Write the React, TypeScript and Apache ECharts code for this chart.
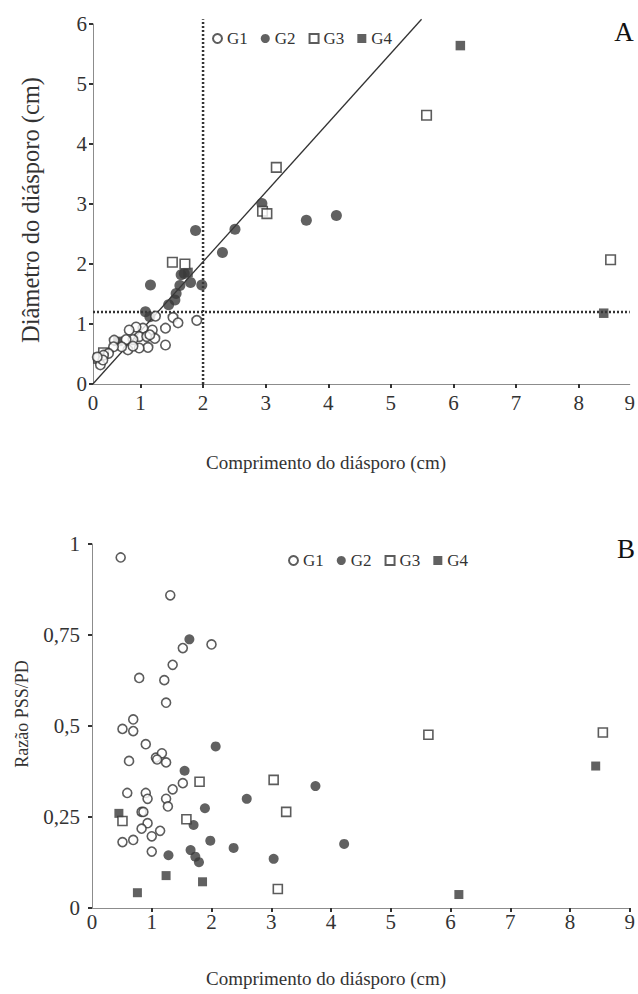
import React, { useEffect, useRef } from "react";
import * as echarts from "echarts";

// ---------- Panel A: diameter vs length ----------
const aG1: [number, number][] = [
  [1.24, 1.13], [1.52, 1.11], [1.6, 1.02], [1.9, 1.06], [1.4, 0.93], [1.4, 0.65],
  [1.19, 0.9], [1.23, 0.76], [1.12, 0.61], [1.04, 0.93], [0.93, 0.95], [0.82, 0.9],
  [0.98, 0.79], [1.1, 0.79], [0.88, 0.74], [0.77, 0.74], [1.15, 0.82], [0.98, 0.6],
  [0.8, 0.57], [0.88, 0.63], [0.7, 0.62], [0.58, 0.73], [0.57, 0.62], [0.49, 0.51],
  [0.41, 0.48], [0.36, 0.32], [0.4, 0.4], [0.31, 0.45],
];
const aG2: [number, number][] = [
  [2.94, 3.01], [3.65, 2.73], [4.13, 2.81], [2.51, 2.58], [1.88, 2.56], [2.31, 2.19],
  [1.65, 1.82], [1.7, 1.84], [1.8, 1.69], [1.63, 1.64], [1.98, 1.65], [1.16, 1.65],
  [1.57, 1.51], [1.55, 1.4], [1.45, 1.32], [1.08, 1.205], [1.15, 1.12],
];
const aG3: [number, number][] = [
  [5.57, 4.48], [3.17, 3.61], [2.95, 2.88], [3.02, 2.84], [1.51, 2.03], [1.71, 2.0],
  [8.51, 2.07], [0.41, 0.52], [0.33, 0.43],
];
const aG4: [number, number][] = [
  [6.11, 5.64], [8.4, 1.18], [1.76, 1.86], [0.64, 0.71], [0.34, 0.42],
];
// regression line and reference thresholds (panel A)
const regSlope = 1.158;
const regIntercept = -0.278;
const regYRange = [0, 6.08];
const refLength = 2;
const refDiameter = 1.2;
const aXRange = [0.242, 8.816];
const aXTicks = [1, 2, 3, 4, 5, 6, 7, 8];
const aYTicks = [0, 1, 2, 3, 4, 5, 6];

// ---------- Panel B: PSS/PD ratio vs length ----------
const bG1: [number, number][] = [
  [0.48, 0.963], [1.31, 0.859], [1.52, 0.714], [2.0, 0.724], [1.35, 0.668], [0.79, 0.632],
  [1.21, 0.626], [1.24, 0.564], [0.69, 0.518], [0.51, 0.492], [0.69, 0.486], [0.9, 0.45],
  [0.62, 0.404], [1.07, 0.413], [1.17, 0.425], [1.09, 0.408], [1.24, 0.4], [1.52, 0.343],
  [1.35, 0.326], [0.59, 0.316], [0.9, 0.316], [0.93, 0.3], [1.24, 0.3], [1.27, 0.279],
  [0.83, 0.264], [0.86, 0.264], [0.93, 0.233], [0.83, 0.218], [1.0, 0.197], [1.14, 0.212],
  [0.51, 0.181], [0.69, 0.187], [1.0, 0.155],
];
const bG2: [number, number][] = [
  [1.63, 0.738], [2.07, 0.444], [1.55, 0.377], [1.89, 0.274], [2.59, 0.3], [1.7, 0.228],
  [1.98, 0.185], [2.37, 0.165], [1.28, 0.145], [1.65, 0.159], [1.73, 0.141], [1.79, 0.126],
  [3.04, 0.135], [3.74, 0.335], [4.22, 0.176],
];
const bG3: [number, number][] = [
  [1.8, 0.347], [1.58, 0.244], [0.51, 0.239], [3.04, 0.352], [3.25, 0.264], [3.11, 0.052],
  [5.63, 0.476], [8.55, 0.482],
];
const bG4: [number, number][] = [
  [0.45, 0.26], [1.24, 0.089], [1.85, 0.072], [0.76, 0.042], [8.43, 0.39], [6.14, 0.037],
];
const bXTicks = [1, 2, 3, 4, 5, 6, 7, 8, 9];

const groupNames = ["G1", "G2", "G3", "G4"];

const FONT = "'Liberation Serif', 'Times New Roman', serif";
const INK = "#333333";
const AXIS = "#8c8c8c";

export default function App() {
  const ref = useRef<HTMLDivElement>(null);

  useEffect(() => {
    document.body.style.margin = "0";
    const chart = echarts.init(ref.current!, null, { renderer: "svg" });

    const openStyle = { color: "#ffffff", borderColor: INK, borderWidth: 1.6 };
    const fillStyle = { color: "#3a3a3a", borderColor: "#3a3a3a", borderWidth: 0 };

    const scatter = (name: string, data: [number, number][], idx: number, symbol: string, open: boolean, size: number) => ({
      type: "scatter",
      name,
      data,
      xAxisIndex: idx,
      yAxisIndex: idx,
      symbol,
      symbolSize: size,
      itemStyle: open ? openStyle : fillStyle,
      z: open ? 3 : 2,
    });

    const dotted = { color: INK, width: 2.5, type: [2, 2] as any };
    const regStartX = (regYRange[0] - regIntercept) / regSlope;
    const regEndX = (regYRange[1] - regIntercept) / regSlope;

    const axisLabelStyle = { fontFamily: FONT, fontSize: 21, color: INK };
    const tickStyle = { show: true, inside: false, length: 4, lineStyle: { color: INK, width: 2 } };
    const lineStyle = { show: true, lineStyle: { color: AXIS, width: 1 } };

    const legendBase = {
      orient: "horizontal",
      itemWidth: 9,
      itemHeight: 9,
      itemGap: 13,
      data: groupNames,
      textStyle: { fontFamily: FONT, fontSize: 17, color: INK },
      selectedMode: false,
    };

    chart.setOption({
      animation: false,
      backgroundColor: "#ffffff",
      grid: [
        { left: 93, top: 24, width: 539, height: 360 },
        { left: 92, top: 544, width: 538, height: 364 },
      ],
      xAxis: [
        {
          type: "value",
          gridIndex: 0,
          min: aXRange[0],
          max: aXRange[1],
          axisLine: lineStyle,
          axisTick: { ...tickStyle, customValues: aXTicks },
          axisLabel: {
            ...axisLabelStyle,
            margin: 8,
            customValues: [aXRange[0], ...aXTicks, aXRange[1]],
            formatter: (v: number) => String(Math.round(v)),
          },
          splitLine: { show: false },
        },
        {
          type: "value",
          gridIndex: 1,
          min: 0,
          max: 9,
          interval: 1,
          axisLine: lineStyle,
          axisTick: { ...tickStyle, customValues: bXTicks },
          axisLabel: { ...axisLabelStyle, margin: 3 },
          splitLine: { show: false },
        },
      ],
      yAxis: [
        {
          type: "value",
          gridIndex: 0,
          min: 0,
          max: 6,
          interval: 1,
          axisLine: lineStyle,
          axisTick: { ...tickStyle, customValues: aYTicks },
          axisLabel: { ...axisLabelStyle, margin: 6 },
          splitLine: { show: false },
        },
        {
          type: "value",
          gridIndex: 1,
          min: 0,
          max: 1,
          interval: 0.25,
          axisLine: lineStyle,
          axisTick: tickStyle,
          axisLabel: {
            ...axisLabelStyle,
            margin: 12,
            formatter: (v: number) => String(v).replace(".", ","),
          },
          splitLine: { show: false },
        },
      ],
      legend: [
        { ...legendBase, left: 207, top: 25 },
        { ...legendBase, left: 283, top: 547 },
      ],
      graphic: [
        {
          type: "text", x: 30, y: 210, rotation: Math.PI / 2,
          style: { text: "Diâmetro do diásporo (cm)", font: `24.5px ${FONT}`, fill: INK, align: "center", verticalAlign: "middle" },
        },
        {
          type: "text", x: 326, y: 462,
          style: { text: "Comprimento do diásporo (cm)", font: `19px ${FONT}`, fill: INK, align: "center", verticalAlign: "middle" },
        },
        {
          type: "text", x: 22, y: 714, rotation: Math.PI / 2,
          style: { text: "Razão PSS/PD", font: `18px ${FONT}`, fill: INK, align: "center", verticalAlign: "middle" },
        },
        {
          type: "text", x: 326, y: 978,
          style: { text: "Comprimento do diásporo (cm)", font: `19px ${FONT}`, fill: INK, align: "center", verticalAlign: "middle" },
        },
        {
          type: "text", x: 624, y: 32,
          style: { text: "A", font: `27px ${FONT}`, fill: "#111", align: "center", verticalAlign: "middle" },
        },
        {
          type: "text", x: 626, y: 549,
          style: { text: "B", font: `27px ${FONT}`, fill: "#111", align: "center", verticalAlign: "middle" },
        },
      ],
      series: [
        {
          type: "line", name: "ref-x", xAxisIndex: 0, yAxisIndex: 0, symbol: "none", clip: false, silent: true,
          data: [[refLength, 0], [refLength, regYRange[1]]], lineStyle: dotted, z: 1,
        },
        {
          type: "line", name: "ref-y", xAxisIndex: 0, yAxisIndex: 0, symbol: "none", clip: false, silent: true,
          data: [[aXRange[0], refDiameter], [aXRange[1], refDiameter]], lineStyle: dotted, z: 1,
        },
        {
          type: "line", name: "reg", xAxisIndex: 0, yAxisIndex: 0, symbol: "none", clip: false, silent: true,
          data: [[regStartX, regYRange[0]], [regEndX, regYRange[1]]],
          lineStyle: { color: INK, width: 1.3 }, z: 1,
        },
        scatter("G2", aG2, 0, "circle", false, 11),
        scatter("G4", aG4, 0, "rect", false, 9.5),
        scatter("G3", aG3, 0, "rect", true, 9.5),
        scatter("G1", aG1, 0, "circle", true, 9.5),
        scatter("G2", bG2, 1, "circle", false, 10),
        scatter("G4", bG4, 1, "rect", false, 9),
        scatter("G3", bG3, 1, "rect", true, 9),
        scatter("G1", bG1, 1, "circle", true, 9),
      ],
    });

    return () => chart.dispose();
  }, []);

  return <div ref={ref} style={{ width: 638, height: 994 }} />;
}
